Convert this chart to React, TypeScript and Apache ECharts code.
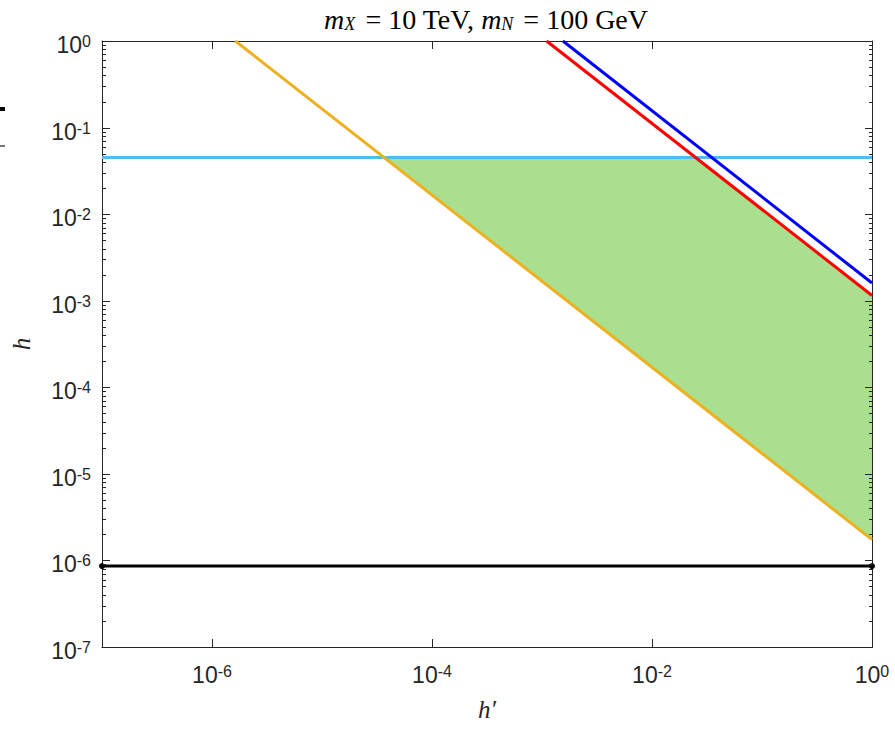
import { useEffect, useRef } from "react";
import * as echarts from "echarts";

// ---- data ----
const X_MIN = 1e-7;
const X_MAX = 1;
const Y_MIN = 1e-7;
const Y_MAX = 1;
const X_TICKS = [1e-6, 1e-4, 1e-2];
const X_LABELS = [1e-6, 1e-4, 1e-2, 1];
const Y_MAJOR = [1e-7, 1e-6, 1e-5, 1e-4, 1e-3, 1e-2, 1e-1, 1];
const Y_MINOR_MULT = [2, 3, 4, 5, 6, 7, 8, 9];

const cyanLine = [[1e-7, 0.045], [1, 0.045]];
const blackLine = [[1e-7, 8.6e-7], [1, 8.6e-7]];
const orangeLine = [[1.63e-6, 1], [1, 1.74e-6]];
const redLine = [[1.1e-3, 1], [1, 1.15e-3]];
const blueLine = [[1.55e-3, 1], [1, 1.6e-3]];
const greenRegion = [[3.7e-5, 0.045], [0.0249, 0.045], [1, 1.15e-3], [1, 1.74e-6]];

const TITLE = "{i|m}{sub|X}{r| = 10 TeV, }{i|m}{sub|N}{r| = 100 GeV}";
const X_NAME = "h′";
const Y_NAME = "h";

const AX = "#262626";

const yMinor: number[] = [];
Y_MAJOR.slice(0, -1).forEach((d) => Y_MINOR_MULT.forEach((m) => yMinor.push(d * m)));

const expLabel = (v: number) => `{b|10}{s|${Math.round(Math.log10(v))}}`;
const labelRich = {
  b: {
    fontSize: 23,
    fontFamily: "Liberation Sans",
    color: AX,
    lineHeight: 23,
    verticalAlign: "bottom",
    padding: [6, 0, 0, 0],
  },
  s: {
    fontSize: 16,
    fontFamily: "Liberation Sans",
    color: AX,
    lineHeight: 16,
    verticalAlign: "top",
  },
};

export default function App() {
  const ref = useRef<HTMLDivElement>(null);
  useEffect(() => {
    if (!ref.current) return;
    const chart = echarts.init(ref.current, undefined, { renderer: "svg" });

    const baseX = {
      type: "log" as const,
      min: X_MIN,
      max: X_MAX,
      splitLine: { show: false },
      minorTick: { show: false },
      axisLine: { show: true, onZero: false, lineStyle: { color: AX, width: 1 } },
      axisTick: { show: true, inside: true, length: 8, customValues: X_TICKS, lineStyle: { color: AX } },
    };
    const baseY = {
      type: "log" as const,
      min: Y_MIN,
      max: Y_MAX,
      splitLine: { show: false },
      minorTick: { show: false },
      axisTick: { show: false },
      axisLine: { show: true, onZero: false, lineStyle: { color: AX, width: 1 } },
    };

    const lineSeries = (data: number[][], color: string, extra: any = {}) => ({
      type: "line",
      data,
      xAxisIndex: 0,
      yAxisIndex: 0,
      showSymbol: false,
      symbol: "none",
      lineStyle: { color, width: 3 },
      itemStyle: { color },
      z: 3,
      silent: true,
      ...extra,
    });

    const baseGraphic: any[] = [
      {
        type: "text",
        x: 486,
        y: 19,
        style: {
          text: TITLE,
          align: "center",
          verticalAlign: "middle",
          rich: {
            i: { fontFamily: "Liberation Serif", fontStyle: "italic", fontSize: 28, fill: "#000", verticalAlign: "top", lineHeight: 28 },
            sub: { fontFamily: "Liberation Serif", fontStyle: "italic", fontSize: 18, fill: "#000", verticalAlign: "bottom", lineHeight: 18, padding: [15, 3, 0, 0] },
            r: { fontFamily: "Liberation Serif", fontSize: 28, fill: "#000", verticalAlign: "top", lineHeight: 28 },
          },
        },
      },
      { type: "rect", shape: { x: 0, y: 107, width: 5, height: 4 }, style: { fill: "#000" } },
      { type: "rect", shape: { x: 0, y: 145, width: 5, height: 2 }, style: { fill: "#777" } },
    ];

    chart.setOption({
      animation: false,
      grid: { left: 102, top: 41, right: 23, bottom: 82, outerBoundsMode: "none" },
      graphic: baseGraphic,
      xAxis: [
        {
          ...baseX,
          position: "bottom",
          axisLabel: { show: true, customValues: X_LABELS, formatter: expLabel, rich: labelRich, margin: 16 },
          name: X_NAME,
          nameLocation: "middle",
          nameGap: 50,
          nameTextStyle: { fontFamily: "Liberation Serif", fontStyle: "italic", fontSize: 25, color: AX },
        },
        { ...baseX, position: "top", axisLabel: { show: false } },
      ],
      yAxis: [
        {
          ...baseY,
          position: "left",
          axisLabel: {
            show: true,
            customValues: Y_MAJOR,
            formatter: expLabel,
            rich: labelRich,
            margin: 11,
            padding: [8, 0, 0, 0],
          },
          name: Y_NAME,
          nameLocation: "middle",
          nameRotate: 90,
          nameGap: 68,
          nameTextStyle: { fontFamily: "Liberation Serif", fontStyle: "italic", fontSize: 25, color: AX },
        },
        {
          ...baseY,
          position: "right",
          axisLabel: { show: false },
        },
      ],
      series: [
        {
          type: "custom",
          xAxisIndex: 0,
          yAxisIndex: 0,
          clip: true,
          silent: true,
          z: 1,
          data: [greenRegion[0]],
          renderItem: (_params: any, api: any) => ({
            type: "polygon",
            shape: { points: greenRegion.map((p) => api.coord(p)) },
            style: { fill: "#A9DF8E", stroke: "none" },
          }),
        },
        lineSeries(cyanLine, "#4DBEEE"),
        lineSeries(blackLine, "#000000", { showSymbol: true, symbol: "circle", symbolSize: 6 }),
        lineSeries(orangeLine, "#EDB120"),
        lineSeries(redLine, "#FF0000"),
        lineSeries(blueLine, "#0000FF"),
      ],
    });

    // y-axis ticks (log minor + major) on both sides, positioned through the axis scale
    const ticks: any[] = [];
    const addTicks = (values: number[], len: number) => {
      values.forEach((v) => {
        const l = chart.convertToPixel({ seriesIndex: 1 }, [X_MIN, v]) as number[];
        const r = chart.convertToPixel({ seriesIndex: 1 }, [X_MAX, v]) as number[];
        if (!l || !r) return;
        const y = Math.round(l[1]);
        const xl = Math.round(l[0]);
        const xr = Math.round(r[0]) + 1;
        ticks.push({ type: "rect", z: 10, shape: { x: xl, y, width: len, height: 1 }, style: { fill: AX } });
        ticks.push({ type: "rect", z: 10, shape: { x: xr - len, y, width: len, height: 1 }, style: { fill: AX } });
      });
    };
    addTicks(Y_MAJOR, 8);
    addTicks(yMinor, 4);
    chart.setOption({ graphic: [...baseGraphic, ...ticks] });

    return () => chart.dispose();
  }, []);
  return (
    <div
      ref={ref}
      style={{ position: "fixed", left: 0, top: 0, width: 895, height: 729, background: "#fff" }}
    />
  );
}
